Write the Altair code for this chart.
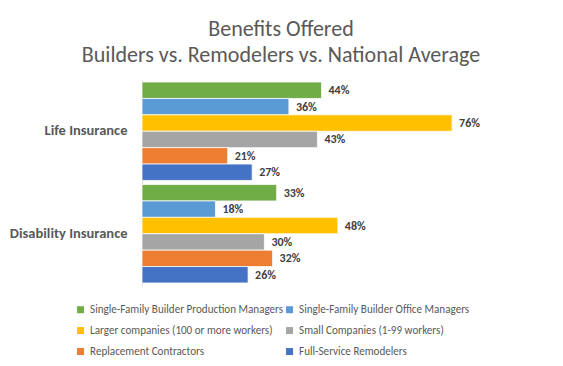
import altair as alt
import pandas as pd

categories = ["Life Insurance", "Disability Insurance"]
series = [
    "Single-Family Builder Production Managers",
    "Single-Family Builder Office Managers",
    "Larger companies (100 or more workers)",
    "Small Companies (1-99 workers)",
    "Replacement Contractors",
    "Full-Service Remodelers",
]
colors = ["#70AD47", "#5B9BD5", "#FFC000", "#A5A5A5", "#ED7D31", "#4472C4"]
life = [44, 36, 76, 43, 21, 27]
disability = [33, 18, 48, 30, 32, 26]

rows = []
for cat, vals in zip(categories, [life, disability]):
    for s, v in zip(series, vals):
        rows.append({"category": cat, "series": s, "value": v, "label": f"{v}%"})
df = pd.DataFrame(rows)

FONT = "Carlito, Calibri, Lato, sans-serif"

base = alt.Chart(df).encode(
    y=alt.Y(
        "category:N", sort=categories, title=None,
        scale=alt.Scale(paddingInner=0.04, paddingOuter=0.02),
        axis=alt.Axis(domainColor="#D9D9D9", ticks=False, labelFontWeight="bold",
                      labelFontSize=14.5, labelColor="#595959", labelPadding=15,
                      labelFont=FONT),
    ),
    yOffset=alt.YOffset("series:N", sort=series,
                        scale=alt.Scale(paddingInner=0, paddingOuter=0)),
    x=alt.X("value:Q", scale=alt.Scale(domain=[0, 100]), axis=None),
)

bars = base.mark_bar(stroke="white", strokeWidth=0.75).encode(
    color=alt.Color(
        "series:N", sort=series,
        scale=alt.Scale(domain=series, range=colors),
        legend=alt.Legend(
            title=None, orient="none", legendX=-67, legendY=224, columns=2,
            direction="horizontal",
            columnPadding=0, rowPadding=9, symbolType="square", symbolSize=49,
            symbolStrokeWidth=0, labelFont=FONT, labelFontSize=11.1,
            labelColor="#595959", labelOffset=4, labelLimit=300, padding=0,
        ),
    )
)

text = base.mark_text(
    align="left", dx=7, font=FONT, fontWeight="bold", fontSize=12, color="#404040"
).encode(text="label:N")

chart = (
    alt.layer(bars, text)
    .properties(
        width=408, height=205,
        title=alt.TitleParams(
            text=["Benefits Offered", "Builders vs. Remodelers vs. National Average"],
            font=FONT, fontSize=22, fontWeight="normal", color="#595959",
            lineHeight=26, anchor="middle", dx=-65, offset=13,
        ),
        autosize=alt.AutoSizeParams(type="none"),
        padding={"left": 134, "top": 72, "right": 5, "bottom": 73},
    )
    .configure_view(stroke=None)
)

chart.save("out.html", embed_options={"renderer": "svg", "actions": False})
